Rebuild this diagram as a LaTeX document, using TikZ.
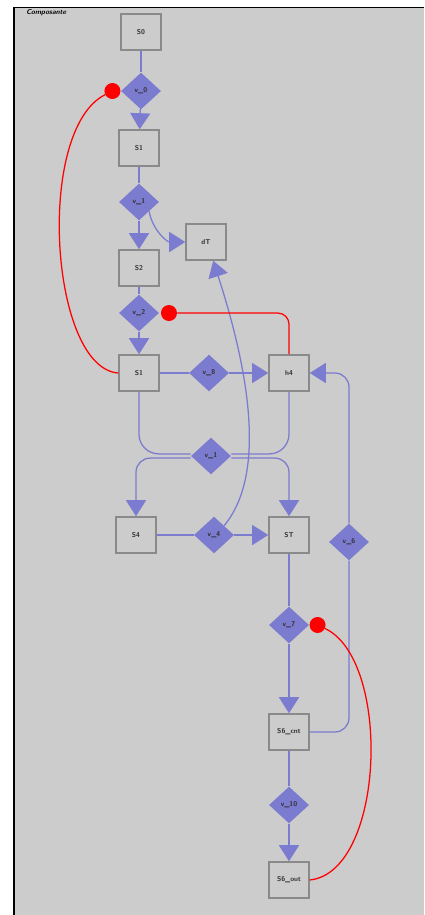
\documentclass[tikz,border=0pt]{standalone}
\usepackage{xcolor}
\definecolor{panelfill}{HTML}{CCCCCC}
\definecolor{placeborder}{HTML}{8A8A8A}
\definecolor{transfill}{HTML}{7B7BD0}
\definecolor{arccolor}{HTML}{7B7BD0}
\definecolor{inhibcolor}{HTML}{FF0000}
\definecolor{labelcolor}{HTML}{303030}
\usetikzlibrary{positioning,arrows.meta,shapes.geometric}
\tikzset{
    place/.style={
        rectangle,
        draw=placeborder,
        fill=panelfill,
        text=labelcolor,
        minimum width=1cm,
        minimum height=0.9cm,
        line width=1.1pt,
        font=\fontsize{5}{6}\selectfont\sffamily\bfseries,
    },
    trans/.style={
        diamond,
        fill=transfill,
        text=labelcolor,
        inner sep=0pt,
        minimum width=1cm,
        minimum height=0.92cm,
        font=\fontsize{5}{6}\selectfont\sffamily\bfseries,
    },
    arc/.style={
        line width=0.9pt,
        arccolor,
    },
    arcto/.style={
        arc,
        -{Triangle[width=0.5cm,length=0.4cm]},
    },
    inhib/.style={
        line width=0.9pt,
        inhibcolor,
    },
    inhibdot/.style={
        circle,
        fill=inhibcolor,
        inner sep=0pt,
        minimum size=0.4cm,
    },
}

\begin{document}
\begin{tikzpicture}[x=0.025cm, y=-0.025cm]
    \useasboundingbox (0,0) rectangle (424,915);
    % Panel
    \fill[panelfill] (15,7) rectangle (424,915);
    \draw[black, line width=1.6pt] (14,7) -- (14,915);
    \draw[black, line width=0.6pt] (14,7) -- (424,7);
    \node[anchor=north west, inner sep=0pt, font=\fontsize{5}{6}\selectfont\sffamily\bfseries\itshape] (title) at (26,9) {Composante};

    % Places and transitions, main column
    \node[place] (s0) at (141,32) {S0};
    \node[trans] (v0) at (141,91) {v\_0};
    \node[place] (s1) at (139,148) {S1};
    \node[trans] (v1) at (139,202) {v\_1};
    \node[place] (s2) at (139,268) {S2};
    \node[trans] (v2) at (139,313) {v\_2};
    \node[place] (s3) at (139,373) {S1};
    \node[trans] (v8) at (209,373) {v\_8};
    \node[place] (h4) at (289,373) {h4};
    \node[place] (dt) at (206,242) {dT};

    % Lower part
    \node[trans] (v5) at (211,456) {v\_1};
    \node[place] (s4) at (136,535) {S4};
    \node[trans] (v4) at (214,535) {v\_4};
    \node[place] (st) at (289,535) {ST};
    \node[trans] (v6) at (349,542) {v\_6};
    \node[trans] (v7) at (289,625) {v\_7};
    \node[place] (s6cnt) at (289,732) {S6\_cnt};
    \node[trans] (v10) at (289,805) {v\_10};
    \node[place] (s6out) at (289,880) {S6\_out};

    % Inhibitor dots
    \node[inhibdot, left=0pt of v0] (r0) {};
    \node[inhibdot, right=1pt of v2] (r2) {};
    \node[inhibdot, right=0pt of v7] (r7) {};

    % Arcs
    \draw[arc] (s0) -- (v0);
    \draw[arcto] (v0) -- (s1);
    \draw[arc] (s1) -- (v1);
    \draw[arcto] (v1) -- (s2);
    \draw[arcto] (v1.south east) to[out=-80, in=180] (dt.west);
    \draw[arc] (s2) -- (v2);
    \draw[arcto] (v2) -- (s3);
    \draw[arc] (s3) -- (v8);
    \draw[arcto] (v8) -- (h4);

    \draw[arc, rounded corners=14pt] (s3.south) |- ([yshift=1.5pt]v5.west);
    \draw[arc, rounded corners=14pt] (h4.south) |- ([yshift=1.5pt]v5.east);
    \draw[arcto, rounded corners=10pt] ([yshift=-1.5pt]v5.west) -| (s4.north);
    \draw[arcto, rounded corners=10pt] ([yshift=-1.5pt]v5.east) -| (st.north);

    \draw[arc] (s4) -- (v4);
    \draw[arcto] (v4) -- (st);
    \draw[arcto] (v4.north east) .. controls (262,480) and (255,390) .. ([xshift=0.18cm]dt.south);

    \draw[arc] (st) -- (v7);
    \draw[arcto] (v7) -- (s6cnt);
    \draw[arc, rounded corners=10pt] (s6cnt.east) -| (v6.south);
    \draw[arcto, rounded corners=10pt] (v6.north) |- (h4.east);
    \draw[arc] (s6cnt) -- (v10);
    \draw[arcto] (v10) -- (s6out);

    % Inhibitor arcs
    \draw[inhib] (s3.west) .. controls (50,368) and (35,130) .. (r0);
    \draw[inhib, rounded corners=8pt] (h4.north) |- (r2);
    \draw[inhib] (s6out.east) .. controls (385,872) and (392,660) .. (r7);
\end{tikzpicture}
\end{document}
